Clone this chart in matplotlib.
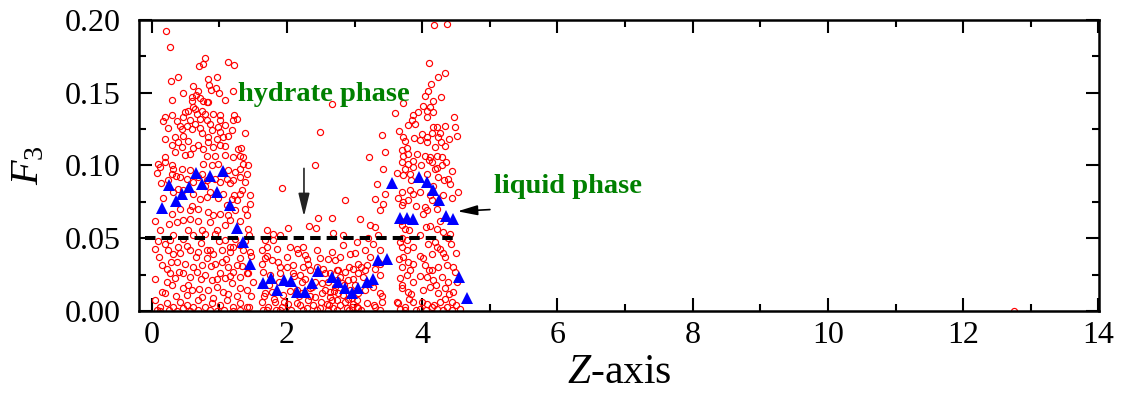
import matplotlib
matplotlib.use("Agg")
import matplotlib.pyplot as plt
from matplotlib.ticker import MultipleLocator, FormatStrFormatter

# ---- data ----------------------------------------------------------------
# red open circles, left cluster (upper part)
circ_z_a = [.207, .266, .700, .750, .789, 1.119, 1.218, .281, .390, .833,
            .957, .848, .942, .868, 1.193, .602, .685, .651, .587, .710,
            .759, .809, .833, .587, .611, .537, .488, .636, .735, .661,
            .784, .907, 1.006, 1.213, .192, .291, .464, .562, .710, .809,
            1.006, 1.203, .168, .365, .414, .513, .636, .858, .981, 1.080,
            .242, .439, .587, .710, .883, 1.006, 1.179, 1.376, 1.129, .340,
            .464, .735, .833, .957, 1.055, .291, .390, .537, .685, .833,
            1.006, 1.080, .439, .611, .759, .907, 1.277, .192, .340, .488,
            .562, .809, .932, 1.080, 1.203, 1.302, 1.351]
circ_f_a = [.1925, .1815, .1685, .1696, .1737, .1708, .1692, .1578, .1605, .1594,
            .1605, .1555, .1530, .1518, .1514, .1543, .1514, .1484, .1468, .1463,
            .1445, .1438, .1434, .1445, .1404, .1377, .1370, .1388, .1377, .1354,
            .1354, .1354, .1349, .1349, .1336, .1349, .1331, .1313, .1320, .1313,
            .1313, .1313, .1308, .1308, .1274, .1274, .1285, .1285, .1263, .1281,
            .1258, .1251, .1251, .1256, .1244, .1233, .1244, .1224, .1205, .1199,
            .1201, .1221, .1194, .1183, .1194, .1144, .1160, .1171, .1144, .1160,
            .1144, .1132, .1130, .1119, .1114, .1126, .1110, .1057, .1091, .1075,
            .1080, .1068, .1068, .1075, .1057, .1068, .1057]

# red open circles, left cluster (lower part) and start of middle band
circ_z_b = [.192, .094, .291, 1.351, 1.425, .118, .316, .439, .759, .883,
            .981, 1.129, 1.228, 1.302, 1.400, .291, .414, .242, .513, .611,
            .685, .809, 1.006, 1.105, 1.203, 1.302, 1.376, 1.918, .316, .464,
            .611, .710, .809, .858, 1.055, 1.179, 1.252, 1.302, 1.450, .291,
            .414, .562, .685, .833, 1.006, 1.105, 1.228, 1.376, 1.450, .365,
            .464, .562, .735, .858, .957, 1.080, 1.154, 1.425, 1.696, 1.795,
            2.017, .044, .192, .266, .390, .464, .611, .784, .932, 1.080,
            1.154, 1.302, 1.228, 1.672, 1.795, 1.893, .242, .316, .562, .685,
            .809, .907, 1.031, 1.154, 1.351, 1.450, 1.622, 1.696, 1.844, 2.041,
            2.140, .143, .217, .365, .488, .611, .735, .809, .932, 1.031,
            1.129, 1.252, 1.302, 1.622, 1.672, 1.770, 1.893, 1.992, 2.091, .266,
            .340, .464, .562, .661, .784, .883, 1.006, 1.080, 1.203, 1.302,
            1.400, 1.499, 1.647, 1.746, 1.893, 2.091, .192, .291, .464, .587,
            .735, .833, .957, 1.055, 1.179, 1.302, 1.400, 1.622, 1.672, 1.770,
            1.943, 2.140, .044, .118, .217, .316, .414, .513, .611, .685,
            .784, .883, 1.006, 1.105, 1.203, 1.302, 1.400, 1.622, 1.721, 1.820,
            1.918, 2.017, 2.140, .118, .365, .562, .957, 1.203, 1.696, 1.893]
circ_f_b = [.1023, .1011, .1000, .1011, .1000, .0989, .0977, .0977, .1011, .1000,
            .1011, .0966, .0954, .0977, .0943, .0943, .0920, .0897, .0909, .0886,
            .0920, .0897, .0886, .0909, .0897, .0920, .0886, .0847, .0817, .0829,
            .0806, .0772, .0783, .0817, .0806, .0772, .0760, .0806, .0795, .0669,
            .0703, .0692, .0703, .0680, .0669, .0726, .0692, .0703, .0737, .0612,
            .0623, .0635, .0555, .0612, .0555, .0589, .0623, .0566, .0555, .0532,
            .0573, .0429, .0463, .0486, .0441, .0498, .0521, .0532, .0532, .0486,
            .0441, .0452, .0498, .0486, .0486, .0521, .0418, .0395, .0418, .0406,
            .0418, .0395, .0418, .0406, .0418, .0406, .0418, .0441, .0429, .0441,
            .0429, .0315, .0292, .0338, .0326, .0304, .0315, .0361, .0326, .0338,
            .0304, .0315, .0361, .0326, .0361, .0349, .0304, .0372, .0315, .0258,
            .0224, .0258, .0235, .0269, .0247, .0212, .0258, .0224, .0269, .0235,
            .0258, .0201, .0269, .0247, .0258, .0258, .0121, .0178, .0155, .0144,
            .0098, .0144, .0167, .0132, .0189, .0155, .0144, .0178, .0121, .0132,
            .0110, .0144, .0075, .0030, .0053, .0030, .0064, .0041, .0030, .0075,
            .0030, .0053, .0041, .0075, .0030, .0053, .0025, .0064, .0030, .0064,
            .0030, .0048, .0053, 0.0, 0.0, 0.0, 0.0, 0.0, .0007, .0007]

# more circles in the packed part of the left cluster
circ_z_e = [.07, .14, .36, .56, .74, .93, 1.16, 1.33,
            .05, .17, .38, .60, .79, .98, 1.22, 1.40,
            .12, .25, .53, .68, .90, 1.12, 1.30, 1.44,
            .09, .32, .52, .73, .86, 1.00, 1.20, 1.38,
            .10, .28, .42, .66, .88, 1.10, 1.34, 1.46,
            .05, .22, .40, .54, .72, .96, 1.16, 1.42,
            .15, .36, .52, .70, .90, 1.12, 1.26, 1.46,
            .08, .26, .46, .68, .86, 1.06, 1.30, 1.44,
            .30, .46, .99, 1.08, 1.26, .20, 1.32]
circ_f_e = [.095, .088, .093, .097, .094, .091, .088, .083,
            .062, .078, .084, .072, .086, .078, .080, .066,
            .056, .060, .056, .062, .066, .066, .062, .052,
            .048, .052, .045, .047, .042, .048, .044, .048,
            .037, .034, .040, .037, .031, .036, .031, .038,
            .022, .020, .027, .018, .022, .022, .024, .026,
            .013, .010, .011, .015, .009, .012, .010, .010,
            .001, .001, .002, .001, .001, .001, .001, .003,
            .145, .150, .150, .145, .132, .118, .112]

# red open circles, middle band
circ_z_c = [2.658, 2.485, 2.411, 2.855, 2.460, 2.325, 2.423, 2.672, 3.072, 2.830,
            2.682, 2.239, 2.263, 2.436, 2.485, 2.658, 2.707, 2.830, 3.028, 3.053,
            2.929, 2.781, 2.239, 2.337, 2.189, 2.313, 2.535, 2.633, 2.732, 2.855,
            2.978, 3.053, 2.214, 2.362, 2.510, 2.609, 2.707, 2.806, 2.904, 3.003,
            2.214, 2.313, 2.411, 2.510, 2.633, 2.732, 2.830, 2.954, 3.053, 2.189,
            2.288, 2.386, 2.485, 2.584, 2.682, 2.781, 2.880, 2.978, 3.053, 2.633,
            2.929, 2.337, 2.732, 2.658, 2.756, 2.855, 2.954, 3.028, 2.559, 2.781]
circ_f_c = [.1422, .1228, .1000, .0765, .0642, .0582, .0571, .0642, .0630, .0521,
            .0537, .0441, .0384, .0418, .0361, .0406, .0349, .0452, .0475, .0326,
            .0395, .0372, .0304, .0281, .0247, .0326, .0292, .0258, .0281, .0269,
            .0292, .0258, .0201, .0167, .0189, .0201, .0167, .0189, .0212, .0178,
            .0121, .0075, .0098, .0121, .0098, .0075, .0110, .0087, .0121, .0041,
            .0018, .0041, .0018, .0048, .0018, .0041, .0018, .0048, .0018, .0132,
            .0144, .0155, .0212, .0075, .0121, .0064, .0030, .0075, .0144, .0235]

# more circles in the packed bottom of the middle band
circ_z_g = [1.66, 1.74, 1.80, 1.88, 1.96, 2.04, 2.10, 2.18,
            2.26, 2.34, 2.42, 2.50, 2.56, 2.62, 2.70, 2.76,
            2.84, 2.90, 2.98, 3.04, 3.10, 1.70, 1.86, 2.00,
            2.16, 2.30, 2.44, 2.60, 2.92, 3.00, 1.64, 1.84,
            2.06, 2.24, 2.44, 2.60, 2.74, 2.92, 3.10]
circ_f_g = [.010, .018, .008, .020, .006, .014, .024, .010,
            .022, .010, .020, .006, .026, .004, .014, .028,
            .018, .008, .022, .003, .030, .038, .034, .030,
            .040, .036, .030, .036, .030, .040, .001, .001,
            .001, .001, .001, .001, .001, .001, .001]

# red open circles, right cluster (plus the lone point near Z = 12.75)
circ_z_d = [4.172, 4.369, 4.103, 4.236, 4.339, 4.127, 4.088, 4.038, 4.275, 3.708,
            4.014, 4.162, 4.112, 3.595, 3.866, 3.940, 4.063, 4.162, 4.472, 3.851,
            4.063, 3.891, 3.792, 4.334, 4.477, 4.152, 4.211, 3.659, 3.397, 3.718,
            3.881, 3.989, 4.063, 4.137, 4.507, 3.743, 3.965, 4.063, 4.236, 4.275,
            4.334, 3.694, 3.446, 3.215, 3.718, 3.792, 4.038, 4.112, 4.211, 4.285,
            4.186, 3.694, 3.792, 3.866, 4.349, 4.137, 3.422, 3.743, 3.866, 4.186,
            4.285, 3.718, 3.817, 4.063, 4.236, 4.383, 4.408, 3.323, 3.446, 3.299,
            3.694, 3.817, 3.866, 3.965, 4.112, 4.531, 4.137, 3.792, 3.422, 3.373,
            3.718, 3.694, 4.038, 4.211, 4.014, 4.063, 3.225, 3.299, 3.694, 3.743,
            4.112, 4.211, 4.310, 4.408, 3.151, 3.274, 3.373, 3.225, 3.669, 3.767,
            3.694, 3.767, 4.088, 4.186, 4.260, 4.137, 4.334, 4.014, 3.718, 3.792,
            3.175, 3.299, 3.373, 3.694, 3.817, 4.038, 4.137, 4.236, 4.359, 4.482,
            3.126, 3.373, 3.669, 3.767, 3.866, 4.063, 4.162, 4.285, 4.383, 3.151,
            3.274, 3.373, 3.694, 3.792, 4.014, 4.112, 4.236, 4.334, 4.458, 3.175,
            3.299, 3.398, 3.644, 3.743, 3.866, 4.063, 4.137, 4.260, 4.359, 4.433,
            3.669, 3.965, 4.211, 4.556, 12.75]
circ_f_d = [.1963, .1970, .1703, .1605, .1635, .1559, .1514, .1479, .1468, .1429,
            .1411, .1445, .1404, .1361, .1349, .1365, .1377, .1370, .1336, .1315,
            .1331, .1285, .1279, .1274, .1263, .1267, .1263, .1240, .1212, .1194,
            .1189, .1217, .1194, .1221, .1205, .1171, .1176, .1160, .1194, .1160,
            .1137, .1107, .1091, .1057, .1068, .1080, .1068, .1057, .1068, .1057,
            .1126, .1023, .1011, .1034, .1023, .1023, .0977, .0977, .0989, .0977,
            .1000, .0932, .0943, .0943, .0920, .0909, .0874, .0874, .0806, .0772,
            .0817, .0829, .0806, .0817, .0795, .0817, .0760, .0760, .0737, .0692,
            .0749, .0726, .0715, .0703, .0669, .0692, .0589, .0578, .0589, .0566,
            .0582, .0566, .0543, .0532, .0418, .0463, .0418, .0372, .0475, .0486,
            .0441, .0418, .0463, .0475, .0429, .0395, .0372, .0361, .0372, .0338,
            .0315, .0292, .0326, .0304, .0281, .0315, .0281, .0304, .0315, .0269,
            .0235, .0247, .0224, .0247, .0201, .0235, .0212, .0235, .0201, .0144,
            .0167, .0121, .0155, .0132, .0144, .0167, .0121, .0155, .0132, .0053,
            .0030, .0064, .0053, .0030, .0064, .0048, .0030, .0064, .0030, .0064,
            .0011, .0011, .0011, .0011, 0.0]

# more circles in the packed part of the right cluster
circ_z_h = [3.62, 3.84, 3.98, 4.10, 4.22, 4.32, 4.44, 3.78,
            3.92, 4.26, 4.40, 3.64, 3.90, 4.16, 4.30, 4.44,
            3.68, 3.80, 3.96, 4.06, 4.26, 4.42, 4.50, 3.70,
            3.86, 3.96, 4.22, 4.38, 3.66, 3.86, 4.10, 4.30,
            4.46, 3.70, 3.84, 3.96, 4.20, 4.40, 4.52, 3.62,
            3.80, 4.00, 4.18, 4.34, 4.50, 3.16, 3.26, 3.34,
            3.40, 3.20, 3.34, 3.28, 3.38, 3.74, 3.90, 4.06,
            4.30, 4.44]
circ_f_h = [.095, .090, .100, .104, .098, .090, .096, .112,
            .108, .122, .118, .078, .072, .086, .080, .078,
            .062, .056, .052, .058, .062, .046, .040, .050,
            .044, .038, .044, .050, .036, .032, .028, .040,
            .030, .018, .012, .024, .018, .012, .020, .006,
            .008, .006, .004, .008, .004, .028, .020, .034,
            .010, .050, .052, .004, .001, .001, .001, .001,
            .001, .001]

# blue filled triangles
tri_z = [.152, .251, .351, .448, .547, .646, .744, .858, .957, 1.055,
         1.154, 1.253, 1.351, 1.450, 1.646, 1.756, 1.845, 1.953, 2.052, 2.141,
         2.263, 2.362, 2.460, 2.658, 2.756, 2.855, 2.954, 3.052, 3.176, 3.274,
         3.348, 3.472, 3.555, 3.669, 3.768, 3.865, 3.954, 4.064, 4.152, 4.250,
         4.349, 4.457, 4.546, 4.655]
tri_f = [.0710, .0863, .0755, .0806, .0851, .0950, .0875, .0927, .0817, .0959,
         .0726, .0571, .0475, .0320, .0194, .0224, .0144, .0212, .0205, .0132,
         .0132, .0190, .0274, .0235, .0201, .0155, .0125, .0160, .0201, .0217,
         .0349, .0354, .0879, .0642, .0642, .0635, .0920, .0886, .0829, .0760,
         .0653, .0630, .0235, .0091]

# dashed threshold line
threshold_z = [-0.1, 4.48]
threshold_f = 0.05

x_ticks = [0, 2, 4, 6, 8, 10, 12, 14]

# ---- figure ----------------------------------------------------------------
plt.rcParams['font.family'] = ['Liberation Serif', 'DejaVu Serif']
plt.rcParams['mathtext.fontset'] = 'custom'
plt.rcParams['mathtext.rm'] = 'Liberation Serif'
plt.rcParams['mathtext.it'] = 'Liberation Serif:italic'

fig = plt.figure(figsize=(11.22, 3.98), dpi=100)
ax = fig.add_axes([0.1239, 0.2186, 0.8556, 0.7312])

circ_z = circ_z_a + circ_z_b + circ_z_e + circ_z_c + circ_z_g + circ_z_d + circ_z_h
circ_f = circ_f_a + circ_f_b + circ_f_e + circ_f_c + circ_f_g + circ_f_d + circ_f_h
ax.plot(circ_z, circ_f, 'o', ls='none', ms=4.4, mfc='none', mec='red', mew=0.85, zorder=2)

ax.plot(threshold_z, [threshold_f] * 2, color='black', lw=2.9, dashes=(2.6, 1.5), zorder=3)

ax.plot(tri_z, tri_f, '^', ls='none', ms=9, color='blue', mew=0, zorder=4)

# annotations
ax.text(2.54, 0.149, 'hydrate phase', color='#008000', fontsize=20.5,
        fontweight='bold', ha='center', va='center')
ax.annotate('', xy=(2.25, 0.065), xytext=(2.25, 0.098),
            arrowprops=dict(arrowstyle='-|>,head_length=0.7,head_width=0.17',
                            mutation_scale=20, color='#222222', lw=1.2,
                            shrinkA=0, shrinkB=0))
ax.text(6.16, 0.0853, 'liquid phase', color='#008000', fontsize=20.5,
        fontweight='bold', ha='center', va='center')
ax.annotate('', xy=(4.52, 0.0685), xytext=(5.0, 0.0697),
            arrowprops=dict(arrowstyle='-|>,head_length=0.6,head_width=0.15',
                            mutation_scale=20, color='black', lw=1.2,
                            shrinkA=0, shrinkB=0))

# axes
ax.set_xlim(-0.19, 14.01)
ax.set_ylim(0, 0.2)
ax.set_xticks(x_ticks)
ax.xaxis.set_minor_locator(MultipleLocator(1))
ax.yaxis.set_major_locator(MultipleLocator(0.05))
ax.yaxis.set_minor_locator(MultipleLocator(0.025))
ax.yaxis.set_major_formatter(FormatStrFormatter('%.2f'))

for s in ax.spines.values():
    s.set_linewidth(1.8)
ax.tick_params(which='both', direction='in', top=True, right=True, width=1.5, labelsize=23)
ax.tick_params(which='major', length=9.5)
ax.tick_params(which='minor', length=5)
ax.tick_params(axis='x', pad=7)
ax.tick_params(axis='y', pad=13.5)

ax.set_xlabel('$Z$-axis', fontsize=30, va='top')
ax.xaxis.set_label_coords(0.5, -0.145)
ax.set_ylabel('$F_3$', fontsize=29)
ax.yaxis.set_label_coords(-0.096, 0.5)

fig.savefig('out.png', dpi=100, facecolor='white')
